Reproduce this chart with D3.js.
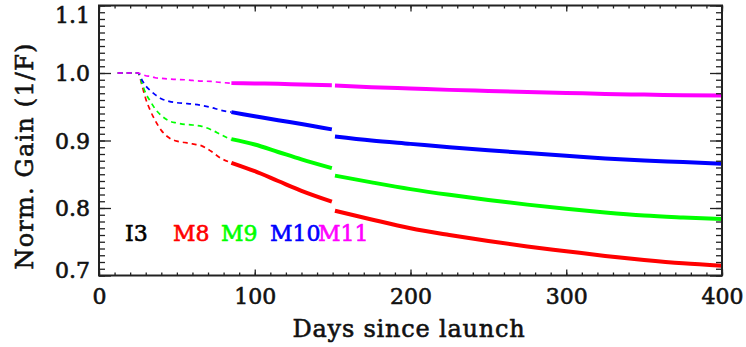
<!DOCTYPE html>
<html><head><meta charset="utf-8">
<script src="https://cdn.jsdelivr.net/npm/d3@7"></script>
<style>
html,body{margin:0;padding:0;background:#fff;}
svg text{font-family:"DejaVu Serif",serif;}
</style></head>
<body><svg id="c" width="746" height="347"></svg>
<script>
// ---- data ----
const seriesNames = ["M8","M9","M10","M11"];
const seriesColors = ["#ff0000","#00ff00","#0000ff","#ff00ff"];
const legendLabels = ["I3","M8","M9","M10","M11"];
const legendColors = ["#000000","#ff0000","#00ff00","#0000ff","#ff00ff"];
const xTicks = [0,100,200,300,400];
const yTicks = [0.7,0.8,0.9,1.0,1.1];

// dashed early phase
const dashDays = [12,25,28,30,33,36,40,45,50,55,60,66,72,78,85];
const dashM8  = [1,1,0.978,0.962,0.944,0.930,0.915,0.904,0.899,0.897,0.895,0.892,0.884,0.874,0.867];
const dashM9  = [1,1,0.982,0.970,0.958,0.947,0.937,0.929,0.926,0.924,0.923,0.921,0.916,0.909,0.901];
const dashM10 = [1,1,0.988,0.981,0.974,0.968,0.962,0.958,0.956,0.955,0.954,0.952,0.949,0.945,0.942];
const dashM11 = [1,1,0.9975,0.996,0.995,0.993,0.992,0.991,0.9905,0.990,0.989,0.988,0.9875,0.986,0.985];

// solid phase before the step
const solidDaysA = [85,100,115,130,149.5];
const solidM8A  = [0.867,0.8545,0.840,0.8255,0.8095];
const solidM9A  = [0.902,0.894,0.883,0.872,0.859];
const solidM10A = [0.942,0.936,0.930,0.9245,0.9165];
const solidM11A = [0.985,0.9845,0.984,0.983,0.982];

// solid phase after the step
const solidDaysB = [151.5,175,200,225,250,275,300,325,350,375,400];
const solidM8B  = [0.796,0.783,0.770,0.760,0.751,0.743,0.736,0.729,0.723,0.718,0.7145];
const solidM9B  = [0.848,0.838,0.828,0.8195,0.812,0.805,0.799,0.7935,0.789,0.786,0.7835];
const solidM10B = [0.906,0.900,0.895,0.890,0.8855,0.8815,0.8775,0.8735,0.8705,0.868,0.8655];
const solidM11B = [0.9815,0.979,0.977,0.975,0.9735,0.972,0.9705,0.969,0.968,0.967,0.9665];

const dashVals = [dashM8,dashM9,dashM10,dashM11];
const solidA = [solidM8A,solidM9A,solidM10A,solidM11A];
const solidB = [solidM8B,solidM9B,solidM10B,solidM11B];

// ---- layout ----
const svg = d3.select("#c");
const L=99, R=722, T=5.5, B=275.5;
const x = d3.scaleLinear().domain([0,400]).range([L,R]);
const y = d3.scaleLinear().domain([0.7,1.1]).range([B,T]);

const line = d3.line().x(d=>x(d[0])).y(d=>y(d[1])).curve(d3.curveMonotoneX);
const zip=(a,b)=>a.map((v,i)=>[v,b[i]]);

const g = svg.append("g");
for (let s=0;s<4;s++){
  g.append("path").attr("d",line(zip(dashDays,dashVals[s])))
   .attr("fill","none").attr("stroke",seriesColors[s]).attr("stroke-width",1.7)
   .attr("stroke-dasharray","5,4");
  g.append("path").attr("d",line(zip(solidDaysA,solidA[s])))
   .attr("fill","none").attr("stroke",seriesColors[s]).attr("stroke-width",4);
  g.append("path").attr("d",line(zip(solidDaysB,solidB[s])))
   .attr("fill","none").attr("stroke",seriesColors[s]).attr("stroke-width",4);
}

// axes
const ax = "#222";
const xMinor = d3.range(0,401,10);
const yMinor = d3.range(70,111,1).map(v=>v/100);
svg.append("g").attr("transform",`translate(0,${B})`)
  .call(d3.axisBottom(x).tickValues(xMinor).tickSize(-3).tickFormat(""));
svg.append("g").attr("transform",`translate(0,${B})`).attr("class","xmaj")
  .call(d3.axisBottom(x).tickValues(xTicks).tickSize(-6).tickFormat(d3.format("d")));
svg.append("g").attr("transform",`translate(0,${T})`)
  .call(d3.axisTop(x).tickValues(xMinor).tickSize(-3).tickFormat(""));
svg.append("g").attr("transform",`translate(0,${T})`)
  .call(d3.axisTop(x).tickValues(xTicks).tickSize(-6).tickFormat(""));
svg.append("g").attr("transform",`translate(${L},0)`)
  .call(d3.axisLeft(y).tickValues(yMinor).tickSize(-6).tickFormat(""));
svg.append("g").attr("transform",`translate(${L},0)`).attr("class","ymaj")
  .call(d3.axisLeft(y).tickValues(yTicks).tickSize(-12).tickFormat(d3.format(".1f")));
svg.append("g").attr("transform",`translate(${R},0)`)
  .call(d3.axisRight(y).tickValues(yMinor).tickSize(-6).tickFormat(""));
svg.append("g").attr("transform",`translate(${R},0)`)
  .call(d3.axisRight(y).tickValues(yTicks).tickSize(-12).tickFormat(""));

svg.selectAll(".domain").remove();
svg.selectAll(".tick line").attr("stroke",ax).attr("stroke-width",1.3);
svg.append("rect").attr("x",L).attr("y",T).attr("width",R-L).attr("height",B-T)
  .attr("fill","none").attr("stroke",ax).attr("stroke-width",2);

const thick = sel => sel.attr("stroke",function(){return d3.select(this).attr("fill");})
  .attr("stroke-width",0.6);

svg.selectAll(".xmaj text").attr("font-size",22).attr("fill","#111")
  .attr("y",13).attr("dy","0.71em").call(thick);
svg.selectAll(".ymaj text").attr("font-size",22).attr("fill","#111")
  .attr("x",-9).attr("dy","0.36em").call(thick)
  .attr("transform",d=> d===1.1? "translate(0,9)" : d===0.7 ? "translate(0,-6)" : null);

svg.append("text").attr("x",409).attr("y",337).attr("text-anchor","middle")
  .attr("font-size",24).attr("fill","#111").attr("letter-spacing","0.8px")
  .text("Days since launch").call(thick);
svg.append("text").attr("transform",`translate(33,156) rotate(-90)`)
  .attr("text-anchor","middle").attr("font-size",24).attr("fill","#111")
  .attr("letter-spacing","1.2px").text("Norm. Gain (1/F)").call(thick);

// legend labels
const legX = [125,173,221,270,318];
svg.selectAll(".leg").data(legendLabels).enter().append("text")
  .attr("x",(d,i)=>legX[i]).attr("y",241).attr("font-size",22)
  .attr("fill",(d,i)=>legendColors[i]).text(d=>d).call(thick);
</script></body></html>
